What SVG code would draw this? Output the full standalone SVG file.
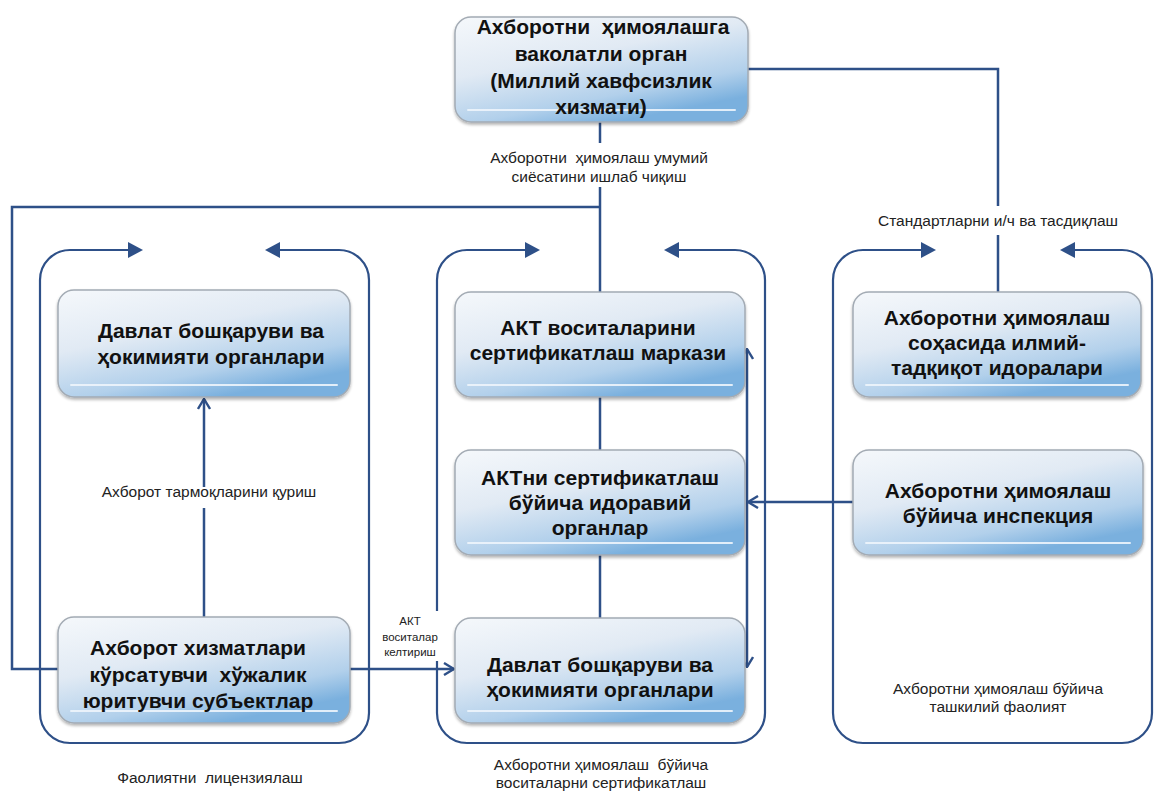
<svg xmlns="http://www.w3.org/2000/svg" width="1154" height="792" viewBox="0 0 1154 792">
  <defs>
    <linearGradient id="boxFill" x1="0" y1="0" x2="0.55" y2="1">
      <stop offset="0" stop-color="#f5f8fb"/>
      <stop offset="0.45" stop-color="#e1eaf4"/>
      <stop offset="0.8" stop-color="#b2d0eb"/>
      <stop offset="1" stop-color="#7ab0de"/>
    </linearGradient>
    <filter id="shadow" x="-5%" y="-5%" width="110%" height="115%">
      <feGaussianBlur in="SourceAlpha" stdDeviation="1.5"/>
      <feOffset dx="0" dy="1.5" result="b"/>
      <feComponentTransfer><feFuncA type="linear" slope="0.3"/></feComponentTransfer>
      <feMerge><feMergeNode/><feMergeNode in="SourceGraphic"/></feMerge>
    </filter>
    <marker id="openArrow" viewBox="0 0 12 14" refX="11" refY="7" markerWidth="12" markerHeight="14" markerUnits="userSpaceOnUse" orient="auto-start-reverse">
      <path d="M1,1 L11,7 L1,13" fill="none" stroke="#2e5088" stroke-width="2.4"/>
    </marker>
  </defs>
  <style>
    text { white-space: pre; }
    .box { fill: url(#boxFill); stroke: #a3abb4; stroke-width: 1.5; filter: url(#shadow); }
    .gloss { stroke: #eef5fc; stroke-width: 2; stroke-linecap: round; opacity: 0.9; }
    .node-text { font-family: "Liberation Sans", Arial, sans-serif; font-weight: bold; font-size: 21px; fill: #111; text-anchor: middle; }
    .label { font-family: "Liberation Sans", Arial, sans-serif; font-size: 15.5px; fill: #222; text-anchor: middle; }
    .small { font-size: 11.5px; }
    .wire { fill: none; stroke: #2e5088; stroke-width: 2.5; }
    .frame { fill: none; stroke: #2e5088; stroke-width: 2.2; }
    .head { fill: #2e5088; }
    .bg { fill: #ffffff; }
  </style>

  <rect width="1154" height="792" fill="#ffffff"/>

  <!-- group frames with inward arrowheads at the top gap -->
  <g id="frames">
    <path class="frame" d="M130,250 H70 A30,30 0 0 0 40,280 V713 A30,30 0 0 0 70,743 H339 A30,30 0 0 0 369,713 V280 A30,30 0 0 0 339,250 H278"/>
    <polygon class="head" points="143,250 128,242 128,258"/>
    <polygon class="head" points="265,250 280,242 280,258"/>

    <path class="frame" d="M527,250 H467 A30,30 0 0 0 437,280 V713 A30,30 0 0 0 467,743 H735 A30,30 0 0 0 765,713 V280 A30,30 0 0 0 735,250 H677"/>
    <polygon class="head" points="540,250 525,242 525,258"/>
    <polygon class="head" points="664,250 679,242 679,258"/>

    <path class="frame" d="M923,250 H863 A30,30 0 0 0 833,280 V713 A30,30 0 0 0 863,743 H1122 A30,30 0 0 0 1152,713 V280 A30,30 0 0 0 1122,250 H1073"/>
    <polygon class="head" points="936,250 921,242 921,258"/>
    <polygon class="head" points="1060,250 1075,242 1075,258"/>
  </g>

  <!-- connectors -->
  <g id="connectors">
    <path class="wire" d="M600,122 V292"/>
    <path class="wire" d="M600,207 H12 V669 H58"/>
    <path class="wire" d="M748,69 H998 V292"/>
    <path class="wire" d="M204,617 V399" marker-end="url(#openArrow)"/>
    <path class="wire" d="M350,669 H454" marker-end="url(#openArrow)"/>
    <path class="wire" d="M853,502 H748" marker-end="url(#openArrow)"/>
    <path class="wire" d="M747,349 V667" marker-start="url(#openArrow)" marker-end="url(#openArrow)"/>
    <path class="wire" d="M600,397 V450"/>
    <path class="wire" d="M600,555 V618"/>
  </g>

  <!-- connector labels -->
  <g id="labels">
    <rect class="bg" x="482" y="143" width="232" height="44"/>
    <text class="label" x="599" y="163">Ахборотни  ҳимоялаш умумий</text>
    <text class="label" x="599" y="182">сиёсатини ишлаб чиқиш</text>

    <rect class="bg" x="858" y="206" width="282" height="29"/>
    <text class="label" x="998" y="226">Стандартларни и/ч ва тасдиқлаш</text>

    <rect class="bg" x="100" y="487" width="220" height="21"/>
    <text class="label" x="209" y="497">Ахборот тармоқларини қуриш</text>

    <rect class="bg" x="371" y="611" width="80" height="50"/>
    <text class="label small" x="410" y="625">АКТ</text>
    <text class="label small" x="410" y="641">воситалар</text>
    <text class="label small" x="410" y="656">келтириш</text>

    <text class="label" x="210" y="783">Фаолиятни  лицензиялаш</text>
    <text class="label" x="601" y="770">Ахборотни ҳимоялаш  бўйича</text>
    <text class="label" x="601" y="788">воситаларни сертификатлаш</text>
    <text class="label" x="998" y="694">Ахборотни ҳимоялаш бўйича</text>
    <text class="label" x="998" y="712">ташкилий фаолият</text>
  </g>

  <!-- nodes -->
  <g id="node-authority">
    <rect class="box" x="455" y="17" width="293" height="105" rx="16"/>
    <line class="gloss" x1="468" y1="110" x2="735" y2="110"/>
    <text class="node-text" x="603" y="34">Ахборотни  ҳимоялашга</text>
    <text class="node-text" x="601" y="61">ваколатли орган</text>
    <text class="node-text" x="601" y="88">(Миллий хавфсизлик</text>
    <text class="node-text" x="601" y="114">хизмати)</text>
  </g>

  <g id="node-gov-left">
    <rect class="box" x="58" y="290" width="292" height="107" rx="16"/>
    <line class="gloss" x1="71" y1="385" x2="337" y2="385"/>
    <text class="node-text" x="211" y="338">Давлат бошқаруви ва</text>
    <text class="node-text" x="211" y="364">ҳокимияти органлари</text>
  </g>

  <g id="node-entities">
    <rect class="box" x="58" y="617" width="292" height="106" rx="16"/>
    <line class="gloss" x1="71" y1="711" x2="337" y2="711"/>
    <text class="node-text" x="198" y="655">Ахборот хизматлари</text>
    <text class="node-text" x="198" y="682">кўрсатувчи  хўжалик</text>
    <text class="node-text" x="198" y="708">юритувчи субъектлар</text>
  </g>

  <g id="node-cert-center">
    <rect class="box" x="455" y="292" width="290" height="105" rx="16"/>
    <line class="gloss" x1="468" y1="385" x2="732" y2="385"/>
    <text class="node-text" x="598" y="335">АКТ воситаларини</text>
    <text class="node-text" x="598" y="360">сертификатлаш маркази</text>
  </g>

  <g id="node-dept">
    <rect class="box" x="455" y="450" width="290" height="105" rx="16"/>
    <line class="gloss" x1="468" y1="543" x2="732" y2="543"/>
    <text class="node-text" x="600" y="485">АКТни сертификатлаш</text>
    <text class="node-text" x="600" y="510">бўйича идоравий</text>
    <text class="node-text" x="600" y="535">органлар</text>
  </g>

  <g id="node-gov-center">
    <rect class="box" x="455" y="618" width="290" height="105" rx="16"/>
    <line class="gloss" x1="468" y1="711" x2="732" y2="711"/>
    <text class="node-text" x="600" y="672">Давлат бошқаруви ва</text>
    <text class="node-text" x="600" y="697">ҳокимияти органлари</text>
  </g>

  <g id="node-research">
    <rect class="box" x="853" y="292" width="288" height="105" rx="16"/>
    <line class="gloss" x1="866" y1="385" x2="1128" y2="385"/>
    <text class="node-text" x="997" y="325">Ахборотни ҳимоялаш</text>
    <text class="node-text" x="997" y="350">соҳасида илмий-</text>
    <text class="node-text" x="997" y="375">тадқиқот идоралари</text>
  </g>

  <g id="node-inspection">
    <rect class="box" x="853" y="450" width="290" height="105" rx="16"/>
    <line class="gloss" x1="866" y1="543" x2="1130" y2="543"/>
    <text class="node-text" x="998" y="498">Ахборотни ҳимоялаш</text>
    <text class="node-text" x="998" y="523">бўйича инспекция</text>
  </g>
</svg>
